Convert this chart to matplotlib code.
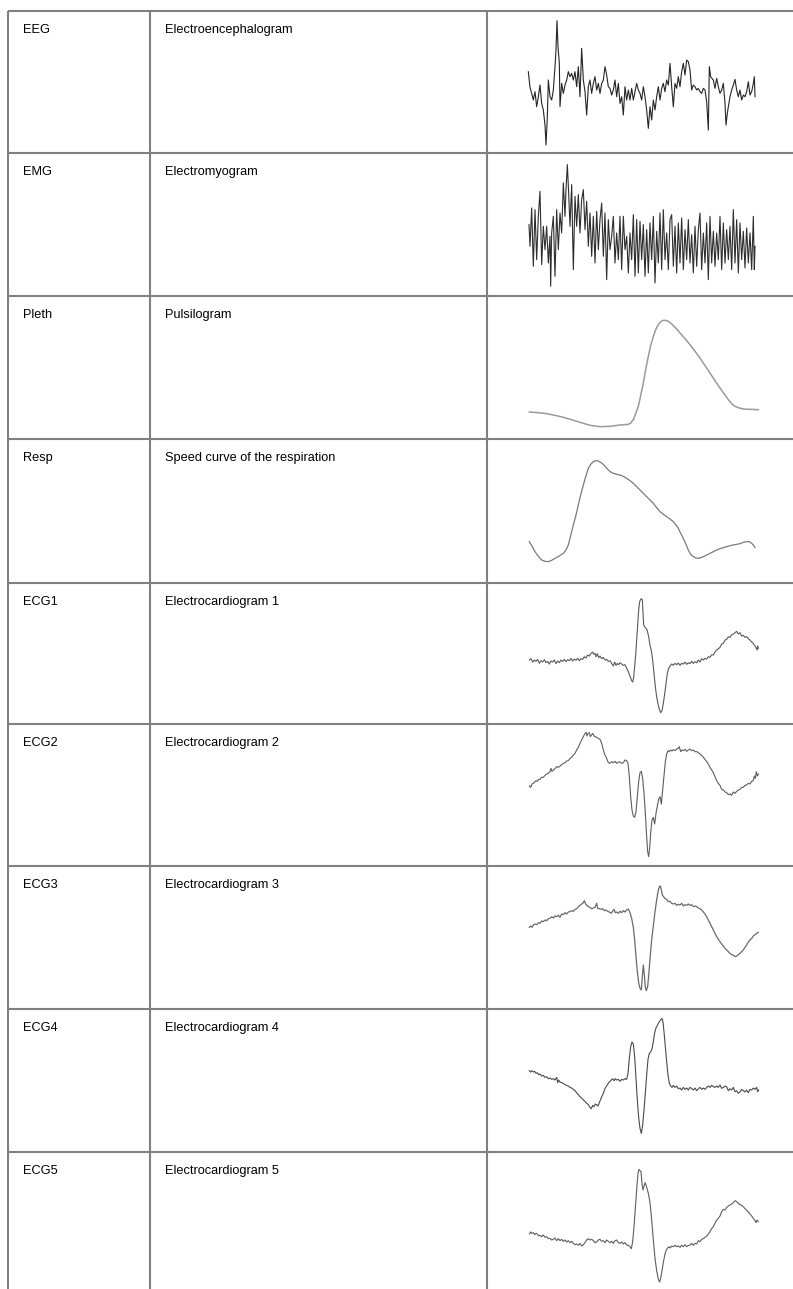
import matplotlib
matplotlib.use("Agg")
import matplotlib.pyplot as plt

# ---------------- table content ----------------
codes = ["EEG", "EMG", "Pleth", "Resp", "ECG1", "ECG2", "ECG3", "ECG4", "ECG5"]
names = ["Electroencephalogram", "Electromyogram", "Pulsilogram",
         "Speed curve of the respiration", "Electrocardiogram 1",
         "Electrocardiogram 2", "Electrocardiogram 3",
         "Electrocardiogram 4", "Electrocardiogram 5"]

# ---------------- waveform samples (sample index, downward deflection) ----------------
eeg = [(145,215),(150,262),(155,280),(160,300),(165,275),(170,320),(175,290),(180,255),(185,310),(190,330),
       (195,375),(198,435),(202,350),(205,240),(210,290),(215,300),(220,270),(225,200),(228,150),(231,62),
       (234,140),(238,190),(240,320),(245,250),(250,280),(255,255),(260,240),(265,215),(270,230),(275,220),
       (280,240),(285,215),(290,260),(295,200),(300,290),(305,145),(310,240),(315,275),(320,345),(325,260),
       (330,240),(335,280),(340,250),(345,230),(350,270),(355,250),(360,280),(365,250),(370,240),(375,200),
       (380,225),(385,260),(390,265),(395,285),(400,270),(405,240),(410,290),(415,250),(420,310),(425,290),
       (430,345),(435,260),(440,300),(445,270),(450,300),(455,265),(460,300),(465,275),(470,250),(475,270),
       (480,280),(485,300),(490,260),(495,290),(500,330),(505,385),(510,320),(515,360),(520,300),(525,330),
       (530,290),(535,260),(540,300),(545,265),(550,250),(555,275),(560,240),(565,255),(570,190),(575,260),
       (580,320),(585,250),(590,265),(595,230),(600,260),(605,215),(610,190),(615,225),(620,180),(625,185),
       (630,210),(635,270),(640,255),(645,260),(650,270),(655,265),(660,275),(665,280),(670,265),(675,270),
       (680,305),(685,390),(688,200),(692,230),(700,240),(705,265),(710,235),(715,260),(720,280),(725,270),
       (730,250),(735,310),(738,375),(742,340),(745,320),(750,290),(755,270),(760,255),(765,238),(770,270),
       (775,290),(780,270),(785,300),(790,285),(795,290),(800,275),(805,245),(810,285),(815,275),(820,250),
       (823,230),(825,290)]

emg = [(147,225),(150,290),(155,175),(160,350),(165,180),(170,330),(175,200),(180,125),(185,345),(190,230),
       (195,300),(200,230),(205,340),(210,260),(212,410),(215,250),(220,200),(225,380),(230,180),(235,300),
       (240,190),(245,250),(250,100),(255,200),(258,120),(262,45),(266,130),(270,230),(275,105),(280,360),
       (285,140),(290,230),(295,135),(300,250),(305,150),(310,120),(315,240),(320,155),(325,290),(330,190),
       (335,320),(340,200),(345,340),(350,185),(355,300),(360,210),(365,160),(370,320),(375,190),(380,390),
       (385,210),(390,300),(395,260),(400,200),(405,340),(410,250),(415,330),(420,200),(425,360),(430,200),
       (435,300),(440,260),(445,370),(450,250),(455,330),(460,195),(465,380),(470,210),(475,370),(480,215),
       (485,330),(490,225),(495,380),(500,240),(505,370),(510,220),(515,330),(520,200),(525,400),(530,245),
       (535,340),(540,190),(545,360),(550,180),(555,330),(560,250),(565,360),(570,210),(575,195),(580,350),
       (585,230),(590,370),(595,220),(600,340),(605,205),(610,360),(615,240),(620,330),(625,210),(630,340),
       (635,255),(640,370),(645,230),(650,350),(655,240),(660,190),(665,360),(670,250),(675,340),(680,220),
       (685,390),(690,200),(695,340),(700,245),(705,350),(710,250),(715,330),(720,200),(725,360),(730,220),
       (735,340),(740,240),(745,330),(750,230),(755,360),(760,180),(765,340),(770,210),(775,370),(780,220),
       (785,330),(790,245),(795,355),(800,235),(805,340),(810,250),(815,360),(820,200),(823,360),(825,290)]

pleth = [(148,367),(175,369),(200,372),(225,377),(250,383),(275,390),(300,398),(330,407),(360,411),(390,410),
         (420,406),(445,404),(452,400),(460,390),(467,372),(475,350),(482,318),(490,280),(497,240),(505,200),
         (512,168),(520,140),(528,118),(535,105),(542,96),(550,92),(557,92),(565,95),(572,100),(580,108),
         (590,118),(600,130),(615,147),(630,165),(645,185),(660,205),(675,228),(690,250),(705,273),(720,295),
         (732,312),(745,330),(755,342),(765,350),(778,355),(790,358),(810,359),(835,360)]

resp = [(148,350),(157,365),(165,380),(175,394),(185,405),(195,409),(205,410),(215,406),(225,400),(238,393),
        (250,385),(258,375),(265,360),(272,332),(280,300),(288,270),(295,240),(302,210),(310,180),(318,152),
        (325,130),(332,118),(340,110),(348,107),(355,108),(362,112),(370,118),(378,127),(385,135),(392,141),
        (400,145),(410,148),(420,150),(430,154),(440,160),(450,167),(460,175),(470,185),(480,195),(490,205),
        (500,215),(510,225),(520,235),(530,248),(540,260),(550,268),(560,275),(570,282),(580,290),(588,300),
        (595,310),(602,325),(610,340),(618,358),(625,375),(632,388),(640,395),(648,399),(655,400),(662,398),
        (670,395),(680,390),(690,385),(700,380),(710,375),(720,371),(730,368),(740,365),(750,362),(760,360),
        (770,358),(780,356),(790,352),(800,350),(808,350),(815,355),(820,360),(825,368)]

ecg1 = [(148,300),(153,296),(158,306),(163,300),(168,304),(173,298),(178,310),(183,302),(188,306),(193,299),
        (198,308),(203,304),(208,312),(213,303),(218,306),(223,300),(228,311),(233,303),(238,308),(243,300),
        (248,304),(253,298),(258,305),(263,299),(268,302),(273,295),(278,303),(283,297),(288,301),(293,295),
        (298,302),(303,296),(308,298),(313,290),(318,294),(323,285),(328,288),(333,280),(338,276),(341,283),
        (345,280),(348,290),(352,281),(356,293),(360,288),(365,296),(370,292),(375,300),(380,298),(385,304),
        (390,302),(395,310),(400,318),(404,306),(408,316),(412,310),(416,314),(420,308),(425,312),(430,316),
        (435,314),(440,325),(445,335),(450,348),(455,362),(458,366),(461,352),(464,320),(467,285),(470,240),
        (473,195),(476,150),(479,125),(482,118),(485,116),(487,120),(489,160),(491,195),(494,200),(498,205),
        (502,212),(506,230),(510,255),(514,272),(518,300),(522,340),(526,380),(530,410),(534,432),(538,448),
        (542,458),(546,452),(550,430),(554,402),(558,370),(562,340),(566,325),(570,318),(575,312),(580,316),
        (585,310),(590,314),(595,309),(600,316),(605,310),(610,312),(615,306),(620,313),(625,308),(630,311),
        (635,304),(640,310),(645,305),(650,308),(655,300),(660,306),(665,296),(670,300),(675,295),(680,297),
        (685,290),(690,292),(695,284),(700,285),(705,276),(710,270),(715,266),(720,262),(725,252),(730,250),
        (735,240),(740,238),(745,230),(750,232),(755,224),(760,222),(765,218),(770,214),(775,222),(780,218),
        (785,228),(790,226),(795,232),(800,230),(805,236),(810,240),(815,246),(820,250),(825,258),(828,262),
        (831,270),(833,258),(835,265)]

ecg2 = [(148,258),(152,262),(156,252),(160,250),(164,246),(168,242),(172,244),(176,238),(180,238),(185,232),
        (190,232),(195,226),(200,222),(205,220),(210,215),(213,205),(216,214),(220,210),(225,206),(230,200),
        (235,202),(240,198),(245,194),(250,190),(255,188),(260,183),(265,182),(270,175),(275,172),(280,165),
        (285,160),(290,150),(295,142),(300,130),(305,120),(310,110),(314,102),(318,97),(321,108),(324,100),
        (328,98),(331,110),(335,104),(338,100),(342,108),(346,110),(350,112),(355,115),(360,118),(365,130),
        (370,150),(375,165),(380,175),(385,188),(390,190),(395,185),(400,188),(405,184),(410,190),(415,186),
        (420,186),(425,190),(430,188),(435,180),(440,182),(444,190),(448,230),(452,290),(456,330),(460,348),
        (464,352),(468,335),(472,290),(476,245),(480,218),(484,214),(488,235),(492,280),(496,340),(500,410),
        (503,455),(506,470),(509,445),(512,400),(516,360),(520,352),(524,372),(528,340),(532,318),(536,298),
        (540,290),(544,312),(548,270),(552,225),(556,185),(560,162),(564,152),(568,155),(572,150),(576,153),
        (580,149),(585,152),(590,147),(595,145),(598,140),(602,155),(606,150),(610,152),(615,148),(620,154),
        (625,150),(630,147),(635,152),(640,150),(645,155),(650,155),(655,158),(660,162),(665,166),(670,172),
        (675,178),(680,185),(685,192),(690,202),(695,210),(700,218),(705,230),(710,242),(715,250),(720,256),
        (725,268),(730,270),(735,276),(740,278),(745,284),(750,282),(755,286),(760,276),(765,280),(770,274),
        (775,270),(780,268),(785,262),(790,262),(795,256),(800,255),(805,250),(810,252),(815,244),(820,242),
        (823,228),(826,235),(829,215),(832,228),(835,222)]

ecg3 = [(148,262),(152,258),(156,262),(160,255),(165,252),(170,254),(175,248),(180,250),(185,243),(190,245),
        (195,240),(200,242),(205,236),(210,235),(215,230),(220,234),(225,228),(230,230),(235,226),(240,232),
        (245,222),(250,224),(255,218),(260,222),(265,216),(270,215),(275,212),(280,214),(285,208),(290,206),
        (295,200),(300,196),(305,192),(310,188),(313,182),(316,190),(320,196),(325,200),(330,202),(335,206),
        (340,204),(345,202),(350,190),(353,205),(358,206),(363,208),(368,206),(373,212),(378,210),(383,214),
        (388,216),(393,220),(398,214),(402,208),(406,218),(410,216),(415,220),(420,214),(425,218),(430,212),
        (435,216),(440,210),(445,207),(450,218),(455,235),(460,262),(464,300),(468,350),(472,395),(476,428),
        (480,445),(484,450),(487,410),(490,375),(493,405),(496,442),(499,452),(503,440),(507,395),(511,345),
        (515,300),(520,258),(525,215),(530,180),(534,155),(538,140),(541,138),(544,150),(547,165),(551,170),
        (555,176),(560,178),(565,185),(570,184),(575,190),(580,192),(585,190),(590,196),(595,193),(600,195),
        (605,190),(610,198),(615,194),(620,196),(625,192),(630,196),(635,194),(640,200),(645,198),(650,200),
        (655,204),(660,206),(665,210),(670,216),(675,222),(680,230),(685,240),(690,250),(695,260),(700,270),
        (705,280),(710,290),(715,298),(720,305),(725,312),(730,318),(735,325),(740,330),(745,335),(750,340),
        (755,344),(760,346),(765,350),(770,348),(775,344),(780,340),(785,335),(790,330),(795,322),(800,315),
        (805,306),(810,300),(815,295),(820,288),(825,284),(830,280),(835,277)]

ecg4 = [(148,212),(152,216),(156,212),(160,216),(164,214),(168,220),(172,218),(176,224),(180,222),(185,228),
        (190,226),(195,232),(200,230),(205,236),(210,234),(215,238),(220,236),(225,240),(230,232),(233,248),
        (236,240),(240,246),(245,248),(250,250),(255,254),(260,256),(265,258),(270,262),(275,264),(280,268),
        (285,272),(290,278),(295,284),(300,290),(305,294),(310,300),(315,304),(320,310),(325,314),(330,322),
        (334,326),(338,316),(342,320),(346,312),(350,314),(354,318),(358,308),(362,298),(366,288),(370,280),
        (374,268),(378,260),(382,255),(386,248),(390,244),(394,240),(398,236),(402,242),(406,236),(410,240),
        (415,238),(420,244),(425,238),(430,240),(435,236),(440,238),(444,220),(448,175),(452,140),(456,126),
        (460,132),(464,170),(468,235),(472,300),(476,352),(480,385),(484,400),(488,375),(492,330),(496,280),
        (500,225),(504,178),(508,160),(512,156),(516,146),(520,125),(524,98),(528,84),(532,76),(536,68),
        (540,62),(543,58),(546,55),(549,66),(552,95),(556,140),(560,185),(564,225),(568,250),(572,258),
        (576,262),(580,256),(585,262),(590,258),(595,266),(600,264),(605,270),(610,262),(615,268),(620,264),
        (625,270),(630,262),(635,266),(640,270),(645,264),(650,272),(655,266),(660,262),(665,268),(670,264),
        (675,268),(680,262),(685,258),(690,262),(695,256),(700,260),(705,262),(710,258),(715,262),(720,255),
        (725,265),(730,262),(735,258),(740,260),(745,272),(750,266),(755,270),(760,262),(765,275),(770,272),
        (775,280),(780,276),(785,268),(790,272),(795,276),(800,270),(805,278),(810,268),(815,270),(820,264),
        (825,268),(830,262),(833,275),(836,270)]

ecg5 = [(148,312),(152,306),(156,310),(160,308),(164,314),(168,310),(172,312),(176,318),(180,316),(185,320),
        (190,315),(195,322),(200,320),(205,326),(210,325),(215,330),(220,328),(225,324),(230,332),(235,326),
        (240,332),(245,328),(250,334),(255,330),(260,336),(265,332),(270,338),(275,334),(280,340),(285,344),
        (290,342),(295,346),(300,340),(305,348),(310,344),(315,338),(320,330),(325,326),(330,330),(335,328),
        (340,332),(345,338),(350,336),(355,330),(360,328),(365,334),(370,332),(375,338),(380,330),(385,334),
        (390,338),(395,334),(400,340),(405,332),(410,330),(415,338),(420,340),(425,336),(430,342),(435,338),
        (440,345),(445,346),(450,350),(454,356),(458,335),(462,290),(466,235),(470,180),(474,130),(477,118),
        (480,122),(483,125),(486,160),(489,180),(492,168),(495,158),(498,165),(501,175),(505,190),(510,218),
        (515,270),(520,330),(525,385),(530,422),(535,448),(539,456),(543,440),(547,415),(551,392),(555,372),
        (559,360),(563,354),(567,350),(571,354),(575,348),(580,350),(585,346),(590,350),(595,348),(600,352),
        (605,346),(610,350),(615,344),(620,350),(625,346),(630,346),(635,340),(640,346),(645,340),(650,342),
        (655,332),(660,335),(665,328),(670,326),(675,322),(680,318),(685,312),(690,305),(695,296),(700,290),
        (705,280),(710,270),(715,265),(720,258),(725,245),(730,238),(735,240),(740,232),(745,228),(750,225),
        (755,222),(760,218),(765,212),(770,215),(775,220),(780,224),(785,226),(790,230),(795,236),(800,240),
        (805,246),(810,252),(815,258),(820,265),(825,272),(828,278),(831,270),(835,275)]

signals = [eeg, emg, pleth, resp, ecg1, ecg2, ecg3, ecg4, ecg5]

# ---------------- layout / style ----------------
W, H = 793, 1289
row_tops = [10.7, 153.3, 296.0, 439.0, 582.7, 724.0, 866.0, 1008.7, 1152.0]
row_h = 142.7
col_x = [7.5, 150.0, 487.0]
ref_offsets = [32, 11, 19, 42, 68, 72, 78, 26, 66]
trace_colors = ["#262626", "#2e2e2e", "#9a9a9a", "#7a7a7a", "#5a5a5a",
                "#5e5e5e", "#6a6a6a", "#4a4a4a", "#5e5e5e"]
trace_lw = [0.8, 0.8, 1.1, 0.9, 0.8, 0.8, 0.9, 0.8, 0.8]
grid_color = "#808080"
font = ["Liberation Sans", "DejaVu Sans"]
fs = 9.2

fig = plt.figure(figsize=(W / 100, H / 100), dpi=100)
bg = fig.add_axes([0, 0, 1, 1])
bg.set_xlim(0, W)
bg.set_ylim(H, 0)
bg.axis("off")

for y in row_tops:
    bg.plot([col_x[0], W], [y, y], color=grid_color, lw=1.5, solid_capstyle="butt")
for x in col_x:
    bg.plot([x, x], [row_tops[0], H], color=grid_color, lw=1.5, solid_capstyle="butt")

for i, (c, n) in enumerate(zip(codes, names)):
    yb = row_tops[i] + 22.0
    bg.text(22.5, yb, c, fontsize=fs, family=font, va="baseline", ha="left", color="black")
    bg.text(165.0, yb, n, fontsize=fs, family=font, va="baseline", ha="left", color="black")

x0, x1 = 528.33, 760.0
for i, sig in enumerate(signals):
    top = row_tops[i]
    ax = fig.add_axes([x0 / W, 1 - (top + row_h) / H, (x1 - x0) / W, row_h / H])
    ax.set_xlim(145, 840)
    ax.set_ylim(ref_offsets[i] + row_h * 3, ref_offsets[i])
    ax.axis("off")
    t = [p[0] for p in sig]
    v = [p[1] for p in sig]
    ax.plot(t, v, color=trace_colors[i], lw=trace_lw[i], clip_on=False,
            solid_joinstyle="round")

fig.savefig("out.png", dpi=100)
